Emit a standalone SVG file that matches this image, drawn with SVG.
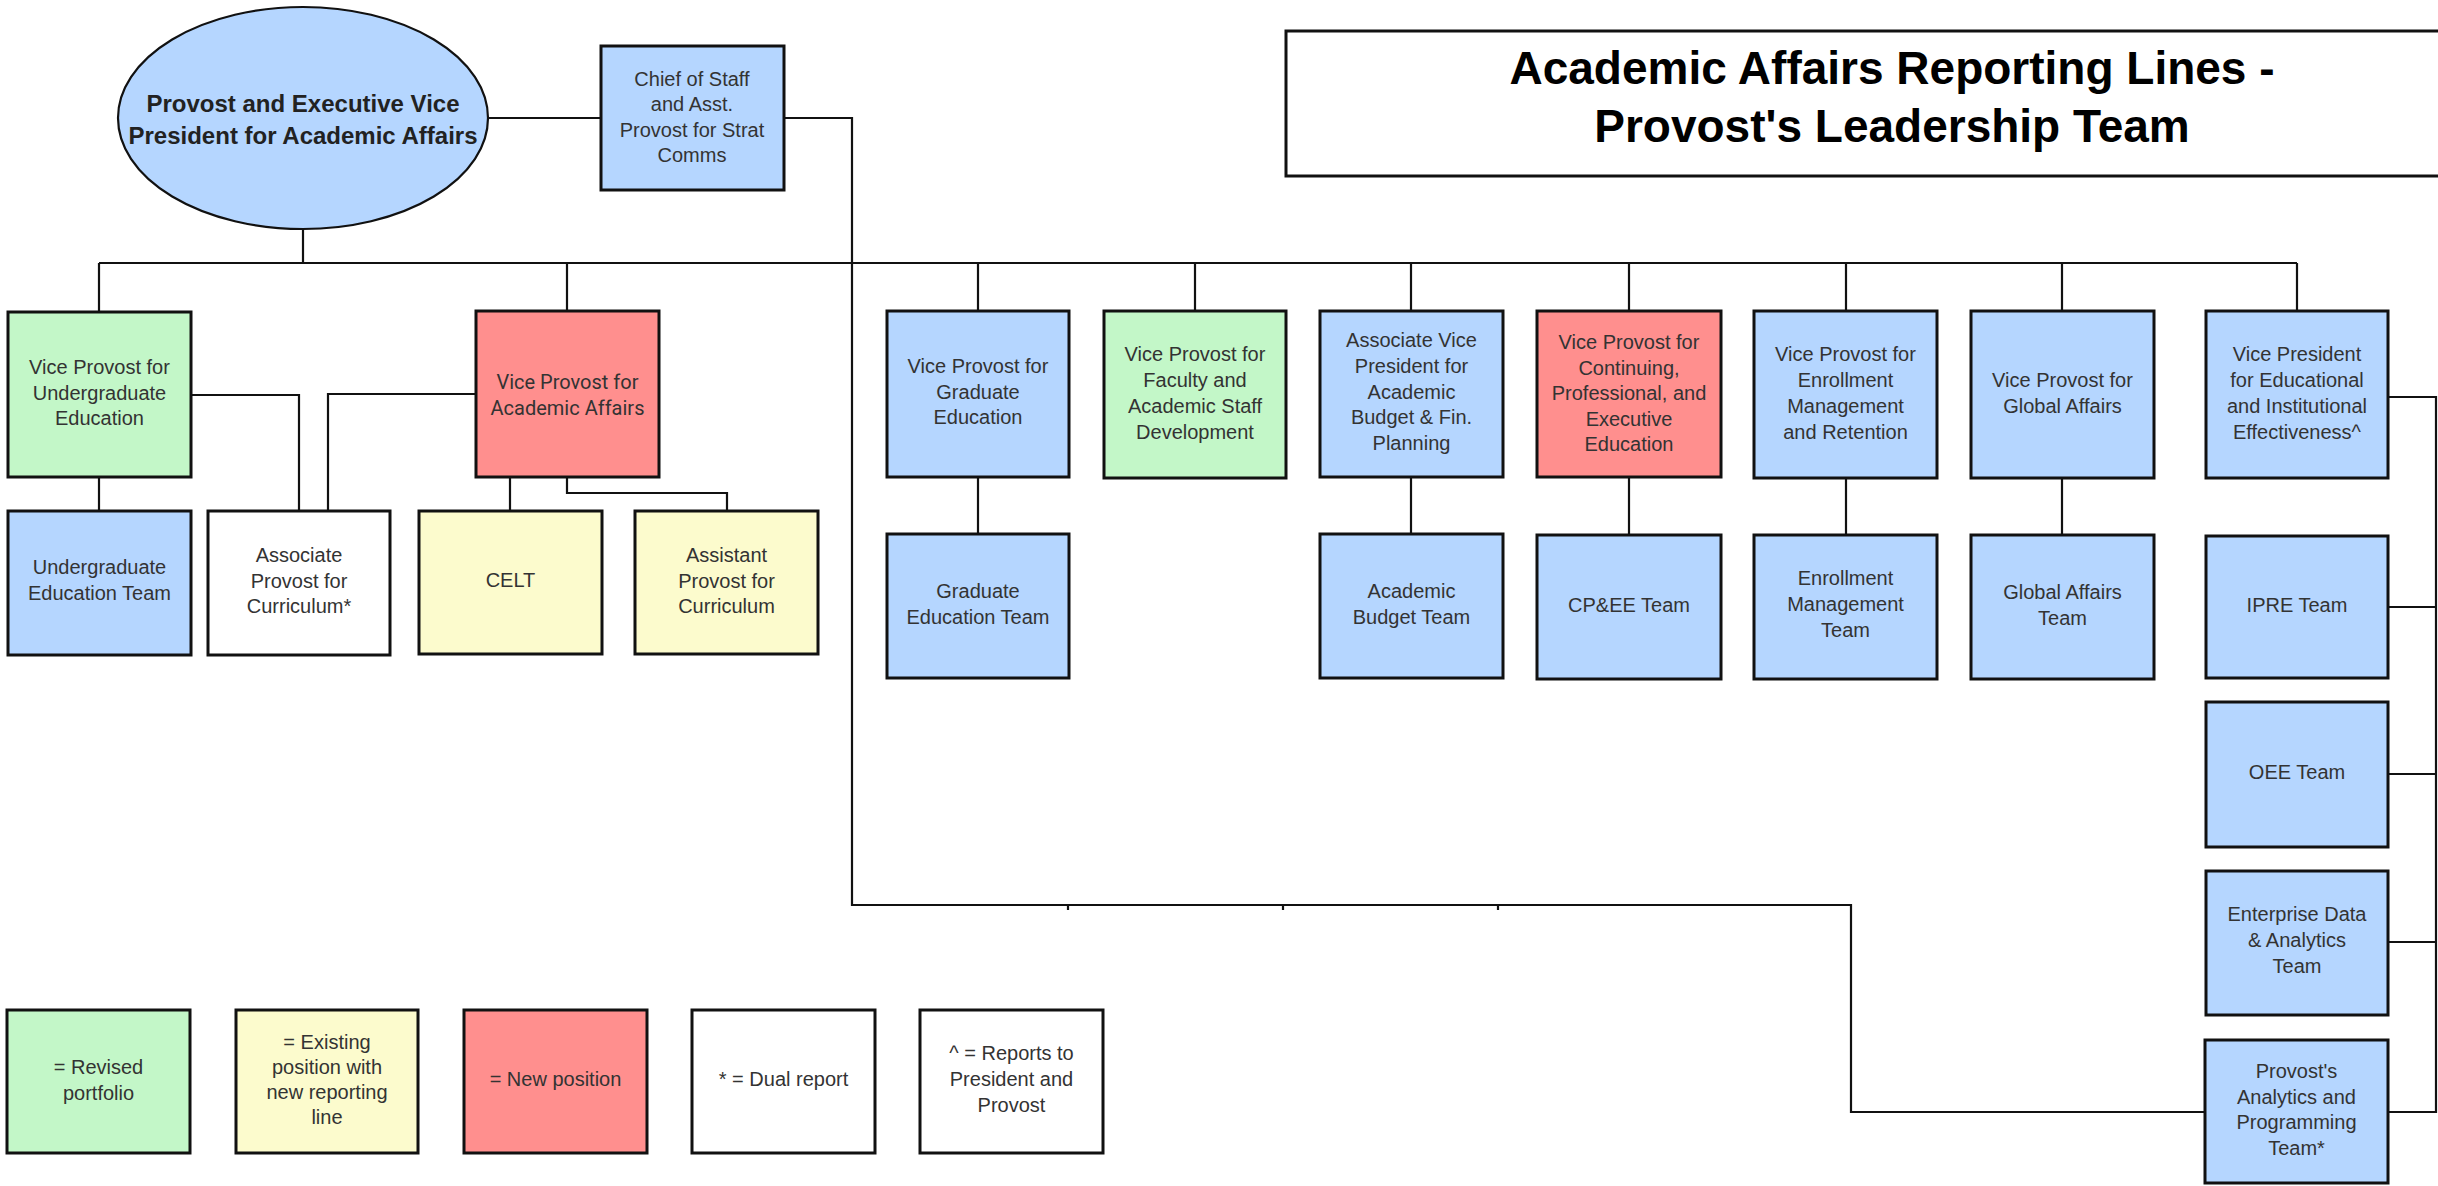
<svg xmlns="http://www.w3.org/2000/svg" width="2438" height="1186" viewBox="0 0 2438 1186">
<style>
.bx{stroke:#111;stroke-width:3}
.blue{fill:#b5d6ff}
.green{fill:#c3f7c8}
.yellow{fill:#fcfbcd}
.red{fill:#ff8f8e}
.white{fill:#ffffff}
.t{font-family:"Liberation Sans",Arial,sans-serif;font-size:20px;fill:#333;text-anchor:middle}
.r{font-family:Roboto,"Liberation Sans",sans-serif;font-size:20px;fill:#333;text-anchor:middle}
.c{fill:none;stroke:#111;stroke-width:2.2}
</style>
<rect width="2438" height="1186" fill="#ffffff"/>
<g id="connectors">
<path class="c" d="M488,118 H601"/>
<path class="c" d="M784,118 H852 V905 H1851 V1112 H2205"/>
<path class="c" d="M1068,905 V910 M1283,905 V910 M1498,905 V910"/>
<path class="c" d="M303,229 V263"/>
<path class="c" d="M99,263 H2297"/>
<path class="c" d="M99,263 V312 M567,263 V311 M978,263 V311 M1195,263 V311 M1411,263 V311 M1629,263 V311 M1846,263 V311 M2062,263 V311 M2297,263 V311"/>
<path class="c" d="M99,477 V511"/>
<path class="c" d="M191,395 H299 V511"/>
<path class="c" d="M476,394 H328 V511"/>
<path class="c" d="M510,477 V511"/>
<path class="c" d="M567,477 V493 H727 V511"/>
<path class="c" d="M978,477 V534 M1411,477 V534 M1629,477 V535 M1846,478 V535 M2062,478 V535"/>
<path class="c" d="M2388,397 H2436 V1112 H2388"/>
<path class="c" d="M2388,607 H2436 M2388,774 H2436 M2388,942 H2436"/>
</g>
<g id="title">
<rect x="1286" y="31" width="1220" height="145" fill="#fff" stroke="#111" stroke-width="3"/>
<text x="1892" y="84" font-family="Liberation Sans, Arial, sans-serif" font-size="46" font-weight="bold" fill="#000" text-anchor="middle">Academic Affairs Reporting Lines -</text>
<text x="1892" y="142" font-family="Liberation Sans, Arial, sans-serif" font-size="46" font-weight="bold" fill="#000" text-anchor="middle">Provost's Leadership Team</text>
</g>
<g id="provost">
<ellipse cx="303" cy="118" rx="185" ry="111" class="blue" stroke="#111" stroke-width="2.2"/>
<text x="303" y="112" font-family="Liberation Sans, Arial, sans-serif" font-size="24" font-weight="bold" fill="#222" text-anchor="middle">Provost and Executive Vice<tspan x="303" dy="32">President for Academic Affairs</tspan></text>
</g>
<g id="chief">
<rect x="601" y="46" width="183" height="144" class="bx blue"/>
<text class="t" x="692" y="86">Chief of Staff<tspan x="692" dy="25.3">and Asst.</tspan><tspan x="692" dy="25.3">Provost for Strat</tspan><tspan x="692" dy="25.3">Comms</tspan></text>
</g>
<g id="vp-undergrad">
<rect x="8" y="312" width="183" height="165" class="bx green"/>
<text class="t" x="99.5" y="374">Vice Provost for<tspan x="99.5" dy="25.5">Undergraduate</tspan><tspan x="99.5" dy="25.5">Education</tspan></text>
</g>
<g id="vp-academic-affairs">
<rect x="476" y="311" width="183" height="166" class="bx red"/>
<text class="r" x="567.5" y="389">Vice Provost for<tspan x="567.5" dy="25.5">Academic Affairs</tspan></text>
</g>
<g id="undergrad-team">
<rect x="8" y="511" width="183" height="144" class="bx blue"/>
<text class="t" x="99.5" y="574">Undergraduate<tspan x="99.5" dy="26">Education Team</tspan></text>
</g>
<g id="assoc-provost-curriculum">
<rect x="208" y="511" width="182" height="144" class="bx white"/>
<text class="t" x="299" y="562">Associate<tspan x="299" dy="25.5">Provost for</tspan><tspan x="299" dy="25.5">Curriculum*</tspan></text>
</g>
<g id="celt">
<rect x="419" y="511" width="183" height="143" class="bx yellow"/>
<text class="t" x="510.5" y="587">CELT</text>
</g>
<g id="asst-provost-curriculum">
<rect x="635" y="511" width="183" height="143" class="bx yellow"/>
<text class="t" x="726.5" y="562">Assistant<tspan x="726.5" dy="25.5">Provost for</tspan><tspan x="726.5" dy="25.5">Curriculum</tspan></text>
</g>
<g id="vp-graduate">
<rect x="887" y="311" width="182" height="166" class="bx blue"/>
<text class="t" x="978" y="373">Vice Provost for<tspan x="978" dy="25.5">Graduate</tspan><tspan x="978" dy="25.5">Education</tspan></text>
</g>
<g id="vp-faculty">
<rect x="1104" y="311" width="182" height="167" class="bx green"/>
<text class="t" x="1195" y="361">Vice Provost for<tspan x="1195" dy="26">Faculty and</tspan><tspan x="1195" dy="26">Academic Staff</tspan><tspan x="1195" dy="26">Development</tspan></text>
</g>
<g id="avp-budget">
<rect x="1320" y="311" width="183" height="166" class="bx blue"/>
<text class="t" x="1411.5" y="347">Associate Vice<tspan x="1411.5" dy="25.8">President for</tspan><tspan x="1411.5" dy="25.8">Academic</tspan><tspan x="1411.5" dy="25.8">Budget &amp; Fin.</tspan><tspan x="1411.5" dy="25.8">Planning</tspan></text>
</g>
<g id="vp-continuing">
<rect x="1537" y="311" width="184" height="166" class="bx red"/>
<text class="t" x="1629" y="349">Vice Provost for<tspan x="1629" dy="25.6">Continuing,</tspan><tspan x="1629" dy="25.6">Professional, and</tspan><tspan x="1629" dy="25.6">Executive</tspan><tspan x="1629" dy="25.6">Education</tspan></text>
</g>
<g id="vp-enrollment">
<rect x="1754" y="311" width="183" height="167" class="bx blue"/>
<text class="t" x="1845.5" y="361">Vice Provost for<tspan x="1845.5" dy="26">Enrollment</tspan><tspan x="1845.5" dy="26">Management</tspan><tspan x="1845.5" dy="26">and Retention</tspan></text>
</g>
<g id="vp-global">
<rect x="1971" y="311" width="183" height="167" class="bx blue"/>
<text class="t" x="2062.5" y="387">Vice Provost for<tspan x="2062.5" dy="26">Global Affairs</tspan></text>
</g>
<g id="vp-educational-effectiveness">
<rect x="2206" y="311" width="182" height="167" class="bx blue"/>
<text class="t" x="2297" y="361">Vice President<tspan x="2297" dy="26">for Educational</tspan><tspan x="2297" dy="26">and Institutional</tspan><tspan x="2297" dy="26">Effectiveness^</tspan></text>
</g>
<g id="graduate-team">
<rect x="887" y="534" width="182" height="144" class="bx blue"/>
<text class="t" x="978" y="598">Graduate<tspan x="978" dy="26">Education Team</tspan></text>
</g>
<g id="budget-team">
<rect x="1320" y="534" width="183" height="144" class="bx blue"/>
<text class="t" x="1411.5" y="598">Academic<tspan x="1411.5" dy="26">Budget Team</tspan></text>
</g>
<g id="cpee-team">
<rect x="1537" y="535" width="184" height="144" class="bx blue"/>
<text class="t" x="1629" y="612">CP&amp;EE Team</text>
</g>
<g id="enrollment-team">
<rect x="1754" y="535" width="183" height="144" class="bx blue"/>
<text class="t" x="1845.5" y="585">Enrollment<tspan x="1845.5" dy="26">Management</tspan><tspan x="1845.5" dy="26">Team</tspan></text>
</g>
<g id="global-team">
<rect x="1971" y="535" width="183" height="144" class="bx blue"/>
<text class="t" x="2062.5" y="599">Global Affairs<tspan x="2062.5" dy="26">Team</tspan></text>
</g>
<g id="ipre-team">
<rect x="2206" y="536" width="182" height="142" class="bx blue"/>
<text class="t" x="2297" y="612">IPRE Team</text>
</g>
<g id="oee-team">
<rect x="2206" y="702" width="182" height="145" class="bx blue"/>
<text class="t" x="2297" y="779">OEE Team</text>
</g>
<g id="eda-team">
<rect x="2206" y="871" width="182" height="144" class="bx blue"/>
<text class="t" x="2297" y="921">Enterprise Data<tspan x="2297" dy="26">&amp; Analytics</tspan><tspan x="2297" dy="26">Team</tspan></text>
</g>
<g id="papt-team">
<rect x="2205" y="1040" width="183" height="143" class="bx blue"/>
<text class="t" x="2296.5" y="1078">Provost's<tspan x="2296.5" dy="25.7">Analytics and</tspan><tspan x="2296.5" dy="25.7">Programming</tspan><tspan x="2296.5" dy="25.7">Team*</tspan></text>
</g>
<g id="legend-revised">
<rect x="7" y="1010" width="183" height="143" class="bx green"/>
<text class="t" x="98.5" y="1074">= Revised<tspan x="98.5" dy="26">portfolio</tspan></text>
</g>
<g id="legend-existing">
<rect x="236" y="1010" width="182" height="143" class="bx yellow"/>
<text class="t" x="327" y="1049">= Existing<tspan x="327" dy="25">position with</tspan><tspan x="327" dy="25">new reporting</tspan><tspan x="327" dy="25">line</tspan></text>
</g>
<g id="legend-new">
<rect x="464" y="1010" width="183" height="143" class="bx red"/>
<text class="t" x="555.5" y="1086">= New position</text>
</g>
<g id="legend-dual">
<rect x="692" y="1010" width="183" height="143" class="bx white"/>
<text class="t" x="783.5" y="1086">* = Dual report</text>
</g>
<g id="legend-president">
<rect x="920" y="1010" width="183" height="143" class="bx white"/>
<text class="t" x="1011.5" y="1060">^ = Reports to<tspan x="1011.5" dy="26">President and</tspan><tspan x="1011.5" dy="26">Provost</tspan></text>
</g>
</svg>
